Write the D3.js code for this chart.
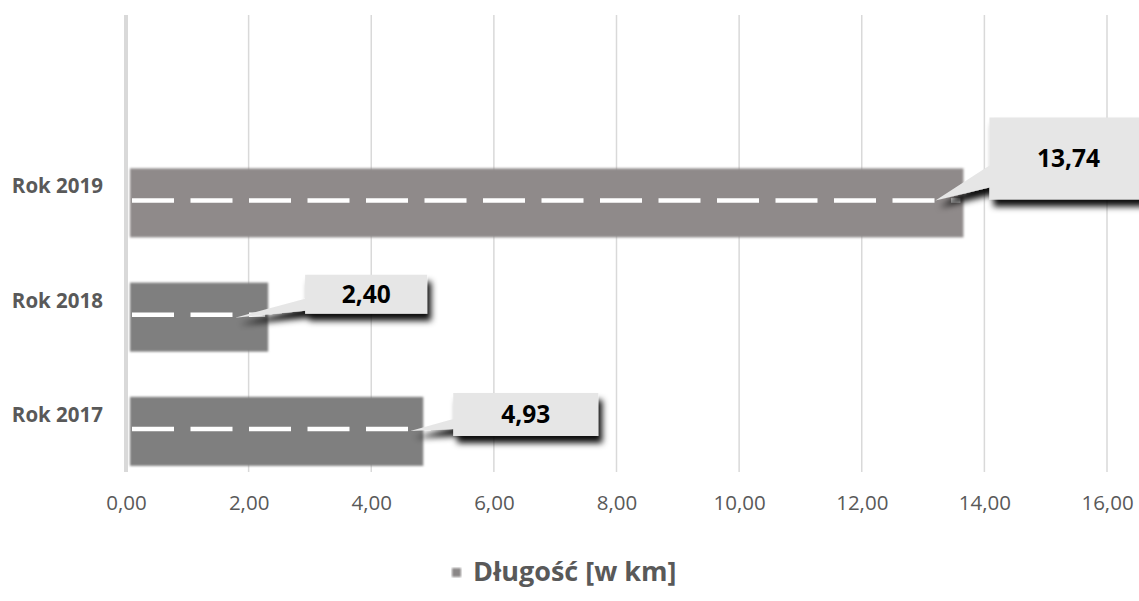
<!DOCTYPE html>
<html>
<head>
<meta charset="utf-8">
<script src="https://cdn.jsdelivr.net/npm/d3@7"></script>
<style>
  body { margin: 0; background: #fff; }
  svg { display: block; font-family: "Open Sans", sans-serif; }
</style>
</head>
<body>
<svg id="chart"></svg>
<script>
// data
const years = ["Rok 2017", "Rok 2018", "Rok 2019"];
const lengths = [4.93, 2.40, 13.74];
const xTicks = [0, 2, 4, 6, 8, 10, 12, 14, 16];
const seriesName = "Długość [w km]";

const width = 1139;
const height = 601;
const margin = { left: 126, right: 32, top: 15, bottom: 129 };

const svg = d3.select('svg#chart').attr('width', width).attr('height', height);
const defs = svg.append('defs');

defs.append('filter').attr('id', 'soft')
  .attr('x', '-5%').attr('y', '-5%').attr('width', '110%').attr('height', '110%')
  .append('feGaussianBlur').attr('stdDeviation', 0.9);

const shadow = defs.append('filter').attr('id', 'shadow')
  .attr('x', '-20%').attr('y', '-30%').attr('width', '150%').attr('height', '180%');
shadow.append('feDropShadow')
  .attr('dx', 4).attr('dy', 7).attr('stdDeviation', 3)
  .attr('flood-color', '#000').attr('flood-opacity', 0.95);

const xScale = d3.scaleLinear()
  .domain([0, 16])
  .range([margin.left, width - margin.right]);

// an empty slot sits above the last year, like in the original chart
const yScale = d3.scaleBand()
  .domain(["", ...years.slice().reverse()])
  .range([margin.top, height - margin.bottom]);

const cy = d => yScale(d) + yScale.bandwidth() / 2;
const fmt = v => d3.format(".2f")(v).replace(".", ",");

// gridlines
const grid = svg.append('g');
grid.selectAll('line').data(xTicks).enter().append('line')
  .attr('x1', d => xScale(d)).attr('x2', d => xScale(d))
  .attr('y1', margin.top).attr('y2', height - margin.bottom)
  .attr('stroke', '#d9d9d9')
  .attr('stroke-width', d => d === 0 ? 4 : 1.5);

// x axis labels
const xAxis = svg.append('g')
  .attr('transform', 'translate(0,' + (height - margin.bottom) + ')')
  .call(d3.axisBottom(xScale).tickValues(xTicks).tickFormat(fmt).tickSize(0).tickPadding(23));
xAxis.select('.domain').remove();
xAxis.selectAll('text')
  .attr('font-family', '"Open Sans", sans-serif')
  .attr('font-size', 20.5).attr('fill', '#595959');

// y labels
svg.append('g').selectAll('text').data(years).enter().append('text')
  .attr('x', 103).attr('y', d => cy(d) + 7)
  .attr('text-anchor', 'end')
  .attr('font-size', 20.5).attr('font-weight', 700).attr('fill', '#595959')
  .text(d => d);

// bars
const rows = years.map((y, i) => ({ year: y, value: lengths[i] }));
const barColor = d => d.year === "Rok 2019" ? '#8f8a8a' : '#7f7f7f';

svg.append('g').selectAll('rect').data(rows).enter().append('rect')
  .attr('x', xScale(0) + 4)
  .attr('y', d => cy(d.year) - 18)
  .attr('width', d => xScale(d.value) - 5 - (xScale(0) + 4))
  .attr('height', 69)
  .attr('fill', barColor)
  .attr('filter', 'url(#soft)');

// dashed centre line
svg.append('g').selectAll('line').data(rows).enter().append('line')
  .attr('x1', xScale(0) + 6)
  .attr('x2', d => xScale(d.value) - 8)
  .attr('y1', d => cy(d.year) + 14).attr('y2', d => cy(d.year) + 14)
  .attr('stroke', '#fff').attr('stroke-width', 4.5)
  .attr('stroke-dasharray', '42 16.5');

// callouts (offsets from the bar end / band centre)
const callouts = {
  "Rok 2019": { bx: 21, by: -69, w: 165, h: 82, tx: -33, ty: 14, b0: -21, b1: 1 },
  "Rok 2018": { bx: 32, by: -26, w: 122, h: 39, tx: -38, ty: 17, b0: -2, b1: 10 },
  "Rok 2017": { bx: 25, by: -22, w: 145, h: 43, tx: -18, ty: 16, b0: 4, b1: 14 }
};

const call = svg.append('g').selectAll('g').data(rows).enter().append('g')
  .attr('filter', 'url(#shadow)');

call.append('path')
  .attr('fill', '#e6e6e6')
  .attr('d', d => {
    const c = callouts[d.year], xe = xScale(d.value), yc = cy(d.year);
    const bx = xe + c.bx, by = yc + c.by;
    return 'M' + bx + ',' + by +
      'H' + (bx + c.w) + 'V' + (by + c.h) + 'H' + bx +
      'V' + (yc + c.b1) + 'L' + (xe + c.tx) + ',' + (yc + c.ty) +
      'L' + bx + ',' + (yc + c.b0) + 'Z';
  });

svg.append('g').selectAll('text').data(rows).enter().append('text')
  .attr('x', d => xScale(d.value) + callouts[d.year].bx + (d.year === "Rok 2019" ? 79 : callouts[d.year].w / 2))
  .attr('y', d => cy(d.year) + callouts[d.year].by + callouts[d.year].h / 2)
  .attr('dy', '0.36em')
  .attr('text-anchor', 'middle')
  .attr('font-size', 24.5).attr('font-weight', 700).attr('fill', '#000')
  .text(d => fmt(d.value));

// legend
const legend = svg.append('g');
legend.append('rect')
  .attr('x', 452).attr('y', 568).attr('width', 9).attr('height', 9)
  .attr('fill', '#8a8787').attr('filter', 'url(#soft)');
legend.append('text')
  .attr('x', 473).attr('y', 581)
  .attr('font-size', 27).attr('font-weight', 700).attr('fill', '#595959')
  .text(seriesName);
</script>
</body>
</html>
